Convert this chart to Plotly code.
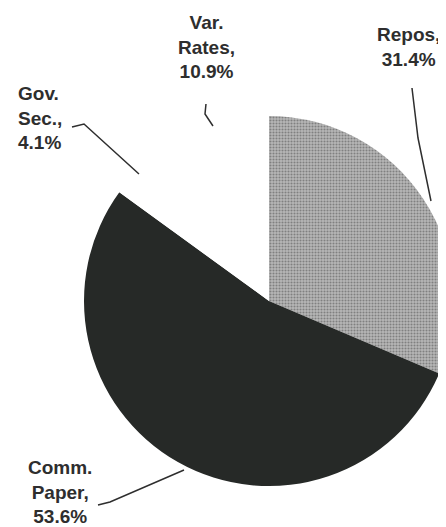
import plotly.graph_objs as go

W, H = 446, 527

labels = ["Repos", "Comm. Paper", "Gov. Sec.", "Var. Rates"]
values = [31.4, 53.6, 4.1, 10.9]
slice_colors = ["#a3a3a3", "#262927", "#ffffff", "#ffffff"]
label_texts = ["Repos,<br>31.4%", "Comm.<br>Paper,<br>53.6%", "Gov.<br>Sec.,<br>4.1%", "Var.<br>Rates,<br>10.9%"]


def px(x, y):
    """pixel -> paper coords"""
    return x / W, 1 - y / H


# pie centre and radius in pixels (pie runs to the right edge of the page)
left, cy = 76, 293
r = (W - left) / 2

fig = go.Figure()

fig.add_trace(
    go.Pie(
        labels=labels,
        values=values,
        sort=False,
        direction="clockwise",
        rotation=0,
        textinfo="none",
        hoverinfo="label+percent",
        marker=dict(
            colors=slice_colors,
            line=dict(width=0),
            pattern=dict(
                shape=[".", "", "", ""],
                fgcolor="#808080",
                bgcolor="#b8b8b8",
                size=3,
                solidity=0.4,
            ),
        ),
        domain=dict(
            x=[left / W, 1],
            y=[1 - (cy + r) / H, 1 - (cy - r) / H],
        ),
        showlegend=False,
    )
)

# label text positions (pixel) and anchors
label_pos = [
    (400, 39, "center"),
    (52, 484, "center"),
    (8, 110, "left"),
    (198, 39, "center"),
]
for txt, (x, y, anchor) in zip(label_texts, label_pos):
    ax_, ay_ = px(x, y)
    fig.add_annotation(
        x=ax_, y=ay_, xref="paper", yref="paper",
        text=txt, showarrow=False, align="center" if anchor == "center" else "left",
        xanchor=anchor, yanchor="middle",
        font=dict(family="Liberation Sans, Arial", size=19, weight="bold", color="#2e2e2e"),
    )

# leader lines (pixel paths)
leaders = [
    [(404, 80), (410, 130), (423, 193)],
    [(90, 497), (102, 494), (176, 462)],
    [(64, 119), (76, 116), (131, 166)],
    [(198, 96), (197, 106), (205, 118)],
]
for pts in leaders:
    path = "M " + " L ".join(f"{px(x, y)[0]:.4f},{px(x, y)[1]:.4f}" for x, y in pts)
    fig.add_shape(type="path", path=path, xref="paper", yref="paper",
                  line=dict(color="#2e2e2e", width=1.5))

fig.update_layout(
    width=W, height=H,
    margin=dict(l=0, r=0, t=0, b=0),
    paper_bgcolor="white",
    plot_bgcolor="white",
)

fig.write_html("out.html")
